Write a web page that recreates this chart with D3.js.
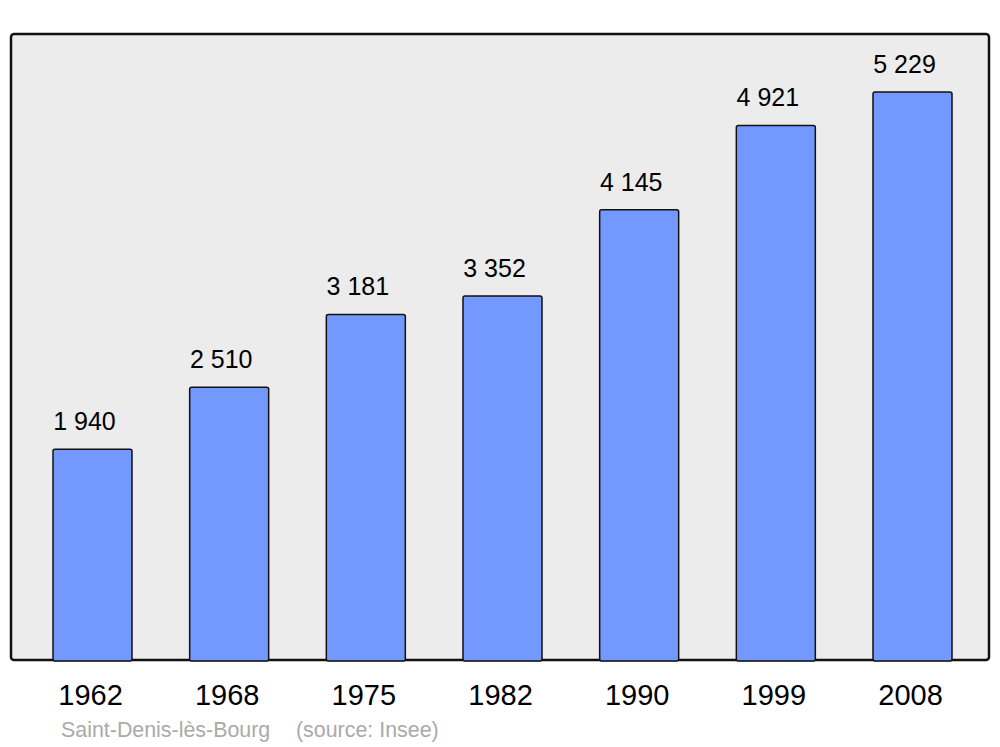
<html>
<head>
<script src="https://d3js.org/d3.v7.min.js"></script>
<style>
  body { margin: 0; background: #fff; }
  text { font-family: "Liberation Sans", Arial, sans-serif; }
</style>
</head>
<body>
<svg id="chart" width="1000" height="747"></svg>
<script>
const years = ['1962', '1968', '1975', '1982', '1990', '1999', '2008'];
const population = [1940, 2510, 3181, 3352, 4145, 4921, 5229];
const valueLabels = ['1 940', '2 510', '3 181', '3 352', '4 145', '4 921', '5 229'];
const placeName = 'Saint-Denis-lès-Bourg';
const sourceNote = '(source: Insee)';

const svg = d3.select('svg#chart');

// panel
svg.append('rect')
  .attr('x', 11).attr('y', 34)
  .attr('width', 978).attr('height', 626)
  .attr('rx', 3)
  .attr('fill', '#ececec')
  .attr('stroke', '#111')
  .attr('stroke-width', 2.5);

let xScale = d3.scaleBand().domain(years).range([53, 952]).paddingInner(0.422).paddingOuter(0);
let yScale = d3.scaleLinear().domain([0, 5229]).range([660, 92]);

let data = years.map((y, i) => ({year: y, value: population[i], label: valueLabels[i]}));

svg.append('g').selectAll('rect').data(data)
  .join('rect')
  .attr('x', d => xScale(d.year))
  .attr('y', d => yScale(d.value))
  .attr('width', xScale.bandwidth())
  .attr('height', d => 661 - yScale(d.value))
  .attr('rx', 2)
  .attr('fill', '#7399ff')
  .attr('stroke', '#111')
  .attr('stroke-width', 1.5);

svg.append('g').selectAll('text').data(data)
  .join('text')
  .attr('x', d => xScale(d.year) + xScale.bandwidth() / 2 - 8)
  .attr('y', d => yScale(d.value) - 19)
  .attr('text-anchor', 'middle')
  .attr('font-size', 25)
  .attr('fill', '#000')
  .text(d => d.label);

// x axis labels
let xAxis = d3.axisBottom(xScale).tickSize(0).tickPadding(0);
let ax = svg.append('g')
  .attr('transform', 'translate(-2, 684)')
  .call(xAxis);
ax.select('.domain').remove();
ax.selectAll('text')
  .attr('font-size', 29)
  .attr('font-family', '"Liberation Sans", Arial, sans-serif')
  .attr('fill', '#000');

let foot = svg.append('text')
  .attr('y', 737)
  .attr('font-size', 21.4)
  .attr('fill', '#aaa');
foot.append('tspan').attr('x', 61).text(placeName);
foot.append('tspan').attr('x', 296).text(sourceNote);
</script>
</body>
</html>
